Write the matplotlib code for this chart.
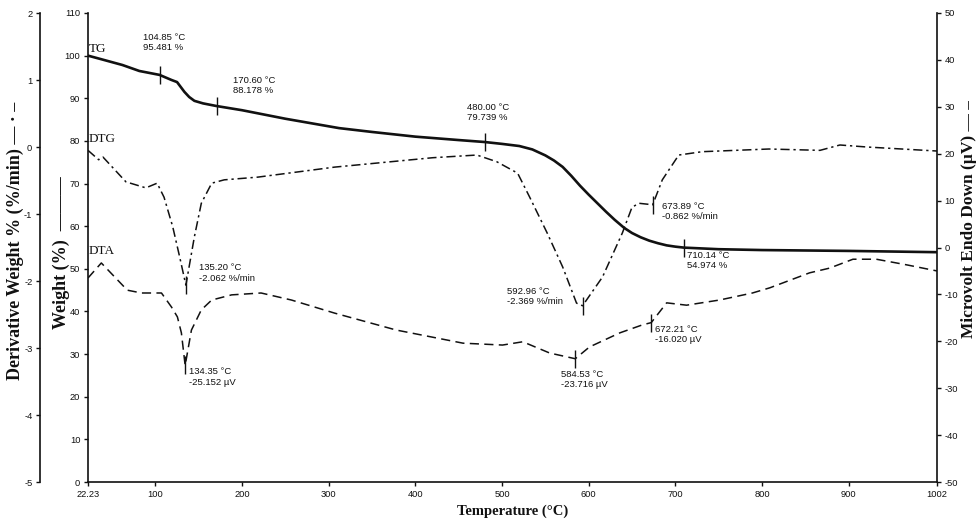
"""TG / DTG / DTA thermogram with three y axes."""
import matplotlib
matplotlib.use('Agg')
from matplotlib import pyplot as plt

plt.rcParams['axes.unicode_minus'] = False

# TG curve: temperature (C) -> weight (%)
tg_temp = [22.23, 35, 62, 81.5, 104.85, 118.5, 125, 133.5, 139, 145, 155, 170.6, 200,
           250, 312, 350, 400, 450, 480, 500, 520, 535, 550, 560, 570, 580, 590, 600,
           610, 620, 630, 641, 650, 660, 670, 680, 690, 700, 710.14, 750, 800, 900, 1002]
tg_weight = [100.0, 99.3, 97.8, 96.4, 95.48, 94.3, 93.8, 91.5, 90.3, 89.4, 88.8, 88.18,
             87.2, 85.2, 83.0, 82.1, 81.0, 80.2, 79.74, 79.3, 78.8, 78.0, 76.6, 75.4,
             73.9, 71.8, 69.5, 67.4, 65.4, 63.4, 61.5, 59.6, 58.4, 57.4, 56.6, 56.0,
             55.5, 55.2, 54.97, 54.6, 54.4, 54.2, 53.9]

# DTG curve: temperature (C) -> derivative weight (%/min)
dtg_temp = [22.23, 34.5, 39.5, 66, 89, 102, 110, 120, 128, 135.2, 145, 153, 165, 179.5,
            218, 307, 420, 471, 494, 518, 532, 552, 570, 586, 592.96, 616, 639, 650,
            658, 673.89, 685, 704, 731, 808, 867, 890, 921, 1002]
dtg_value = [-0.05, -0.19, -0.15, -0.52, -0.61, -0.54, -0.75, -1.19, -1.64, -2.062,
             -1.34, -0.84, -0.54, -0.49, -0.45, -0.30, -0.16, -0.12, -0.22, -0.39,
             -0.75, -1.28, -1.79, -2.33, -2.369, -1.94, -1.28, -0.90, -0.84, -0.862,
             -0.49, -0.12, -0.07, -0.03, -0.05, 0.03, 0.0, -0.06]

# DTA curve: temperature (C) -> microvolt
dta_temp = [22.23, 37.6, 67.6, 84, 107, 118.6, 125.4, 130, 134.35, 141.6, 153, 165, 188,
            222, 257, 307, 378, 455, 500.6, 524, 555, 584.53, 601, 636, 662, 672.21,
            690, 713, 751, 789, 809, 855, 878, 905, 932, 967, 1002]
dta_value = [-6.5, -3.3, -9.1, -9.7, -9.7, -12.7, -14.8, -18.2, -25.152, -17.6, -13.3,
             -11.2, -10.1, -9.7, -11.2, -14.0, -17.6, -20.4, -20.8, -20.1, -22.5,
             -23.716, -21.2, -18.2, -16.5, -16.02, -11.8, -12.3, -11.2, -9.7, -8.6,
             -5.4, -4.4, -2.5, -2.5, -3.7, -5.0]

# marked points: (temperature, value, label text, text offset in pixels)
tg_marks = [(104.85, 95.481, '104.85 \u00b0C\n95.481 %', (-17, 42)),
            (170.60, 88.178, '170.60 \u00b0C\n88.178 %', (16, 30)),
            (480.00, 79.739, '480.00 \u00b0C\n79.739 %', (-18, 39)),
            (710.14, 54.974, '710.14 \u00b0C\n54.974 %', (3, -3))]
dtg_marks = [(135.20, -2.062, '135.20 \u00b0C\n-2.062 %/min', (13, 22)),
             (592.96, -2.369, '592.96 \u00b0C\n-2.369 %/min', (-76, 19)),
             (673.89, -0.862, '673.89 \u00b0C\n-0.862 %/min', (9, 3))]
dta_marks = [(134.35, -25.152, '134.35 \u00b0C\n-25.152 \u00b5V', (4, -2)),
             (584.53, -23.716, '584.53 \u00b0C\n-23.716 \u00b5V', (-14, -11)),
             (672.21, -16.020, '672.21 \u00b0C\n-16.020 \u00b5V', (4, -2))]

x_ticks = [22.23, 100, 200, 300, 400, 500, 600, 700, 800, 900, 1002]
x_labels = ['22.23', '100', '200', '300', '400', '500', '600', '700', '800', '900', '1002']

SANS = 'Liberation Sans'
SERIF = 'Liberation Serif'
INK = '#111111'
TICK_FS = 6.7
NOTE_FS = 6.8

fig = plt.figure(figsize=(9.78, 5.21), dpi=100)
ax = fig.add_axes([88 / 978, 1 - 482 / 521, (937 - 88) / 978, (482 - 13) / 521])
ax2 = ax.twinx()
ax3 = ax.twinx()

# weight axis (inner left)
ax.plot(tg_temp, tg_weight, color=INK, lw=1.9, zorder=3)
ax.set_xlim(22.23, 1002)
ax.set_ylim(0, 110)
ax.set_yticks(range(0, 111, 10))
ax.set_xticks(x_ticks)
ax.set_xticklabels(x_labels)

# derivative axis (outer left)
ax2.plot(dtg_temp, dtg_value, color=INK, lw=1.1, dashes=(6, 2.5, 1.5, 2.5))
ax2.set_ylim(-5, 2)
ax2.set_yticks(range(-5, 3))
ax2.yaxis.set_ticks_position('left')
ax2.yaxis.set_label_position('left')
ax2.spines['left'].set_position(('outward', 48 * 72 / 100))

# DTA axis (right)
ax3.plot(dta_temp, dta_value, color=INK, lw=1.1, dashes=(6, 3.5))
ax3.set_ylim(-50, 50)
ax3.set_yticks(range(-50, 51, 10))

for a in (ax, ax2, ax3):
    a.spines['top'].set_visible(False)
    for s in a.spines.values():
        s.set_linewidth(1.2)
        s.set_color(INK)
    a.tick_params(labelsize=TICK_FS, length=3, width=1, colors=INK, direction='out', pad=2.5)
    for lab in a.get_xticklabels() + a.get_yticklabels():
        lab.set_fontfamily(SANS)
ax2.spines['right'].set_visible(False)
ax2.spines['bottom'].set_visible(False)
ax3.spines['left'].set_visible(False)
ax3.spines['bottom'].set_visible(False)
ax.spines['right'].set_visible(False)

# marker ticks and labels
for axis, marks in ((ax, tg_marks), (ax2, dtg_marks), (ax3, dta_marks)):
    for t, v, txt, (dx, dy) in marks:
        axis.plot([t], [v], marker='|', ms=13, mew=1.0, color=INK, zorder=4)
        axis.annotate(txt, xy=(t, v), xytext=(dx, dy), textcoords='offset pixels',
                      ha='left', va='top', fontsize=NOTE_FS, family=SANS, color=INK,
                      linespacing=1.2)

# curve names
for name, v, dy, axis in (('TG', 100, 1, ax), ('DTG', 0, 2, ax2), ('DTA', -2, 0, ax3)):
    axis.annotate(name, xy=(22.23, v), xytext=(1, dy), textcoords='offset pixels',
                  ha='left', va='bottom', fontsize=9.5, family=SERIF, color=INK)

ylab_kw = dict(fontsize=13, family=SERIF, fontweight='bold', color=INK)
ax2.set_ylabel('Derivative Weight % (%/min) \u2014 \u00b7 \u2013', **ylab_kw)
ax2.yaxis.set_label_coords(-0.075, 0.515)
ax.set_ylabel('Weight (%)  \u2014\u2014\u2014', **ylab_kw)
ax.yaxis.set_label_coords(-0.021, 0.49)
ax3.set_ylabel('Microvolt Endo Down (\u00b5V) \u2014 \u2013', fontsize=12.5, family=SERIF,
               fontweight='bold', color=INK)
ax3.yaxis.set_label_coords(1.028, 0.56)
ax.set_xlabel('Temperature (\u00b0C)', fontsize=10.5, family=SERIF, fontweight='bold',
              color=INK, labelpad=4)

fig.savefig('out.png', dpi=100)
